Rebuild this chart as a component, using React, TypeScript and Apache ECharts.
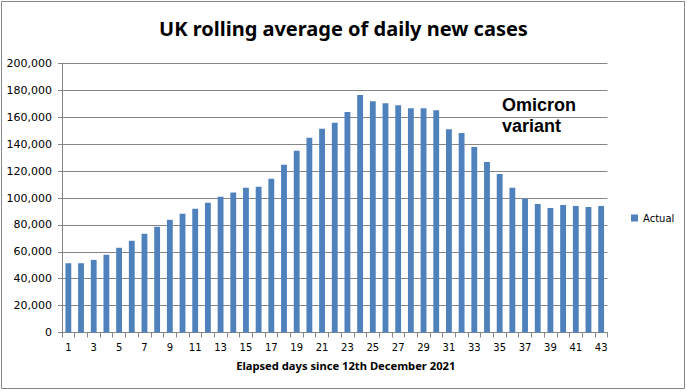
import React, { useEffect, useRef } from "react";
import * as echarts from "echarts";

const days: string[] = Array.from({ length: 43 }, (_, i) => String(i + 1));
const actual: number[] = [
  51500, 51500, 54000, 57800, 63000, 68200, 73400, 78600, 83800, 88300,
  92000, 96400, 101000, 104000, 107600, 108300, 114400, 124800, 135100, 144800,
  151500, 155900, 164000, 176500, 172000, 170500, 169000, 166800, 166800, 165300,
  151200, 148300, 137900, 126700, 117800, 107700, 99500, 95500, 92600, 94800,
  94100, 93300, 94100,
];
const yTicks = { min: 0, max: 200000, interval: 20000 };

export default function App() {
  const ref = useRef<HTMLDivElement>(null);
  useEffect(() => {
    if (!ref.current) return;
    const chart = echarts.init(ref.current, undefined, { renderer: "svg" });
    chart.setOption({
      animation: false,
      backgroundColor: "#ffffff",
      title: {
        text: "UK rolling average of daily new cases",
        left: "center",
        top: 13,
        textStyle: { fontFamily: "Noto Sans", fontWeight: "bold", fontSize: 20, color: "#000" },
      },
      legend: {
        data: ["Actual"],
        orient: "vertical",
        left: 626,
        top: 208,
        icon: "rect",
        itemWidth: 7,
        itemHeight: 7,
        itemGap: 4,
        textStyle: { fontFamily: "DejaVu Sans", fontSize: 10, color: "#000" },
      },
      grid: { left: 62, right: 79.5, top: 63.5, bottom: 58.5, containLabel: false },
      xAxis: {
        type: "category",
        data: days,
        boundaryGap: true,
        name: "Elapsed days since 12th December 2021",
        nameLocation: "middle",
        nameGap: 27,
        nameTextStyle: {
          fontFamily: "Noto Sans",
          fontWeight: "bold",
          fontSize: 11.2,
          color: "#000",
          padding: [0, 0, 0, 22],
        },
        axisLine: { lineStyle: { color: "#868686" } },
        axisTick: { show: true, interval: 0, length: 5, lineStyle: { color: "#868686" } },
        axisLabel: { interval: 1, margin: 10, fontFamily: "DejaVu Sans", fontSize: 10, color: "#000" },
      },
      yAxis: {
        type: "value",
        min: yTicks.min,
        max: yTicks.max,
        interval: yTicks.interval,
        axisLine: { show: true, lineStyle: { color: "#868686" } },
        axisTick: { show: true, length: 4, lineStyle: { color: "#868686" } },
        axisLabel: {
          margin: 10,
          fontFamily: "DejaVu Sans",
          fontSize: 11,
          color: "#000",
          formatter: (v: number) => v.toLocaleString("en-US"),
        },
        splitLine: { show: true, lineStyle: { color: "#868686", width: 1 } },
      },
      series: [
        {
          name: "Actual",
          type: "bar",
          data: actual,
          barWidth: "46%",
          itemStyle: { color: "#4F81BD" },
        },
      ],
      graphic: [
        {
          type: "rect",
          shape: { x: 1.5, y: 1.5, width: 683, height: 387 },
          style: { fill: "none", stroke: "#868686", lineWidth: 1 },
          silent: true,
        },
        {
          type: "text",
          left: 502,
          top: 94,
          style: {
            text: "Omicron\nvariant",
            font: "bold 18px 'Liberation Sans'",
            lineHeight: 21,
            fill: "#000",
          },
        },
      ],
    });
    return () => chart.dispose();
  }, []);
  return (
    <div
      ref={ref}
      style={{ position: "fixed", left: 0, top: 0, width: 687, height: 391 }}
    />
  );
}
